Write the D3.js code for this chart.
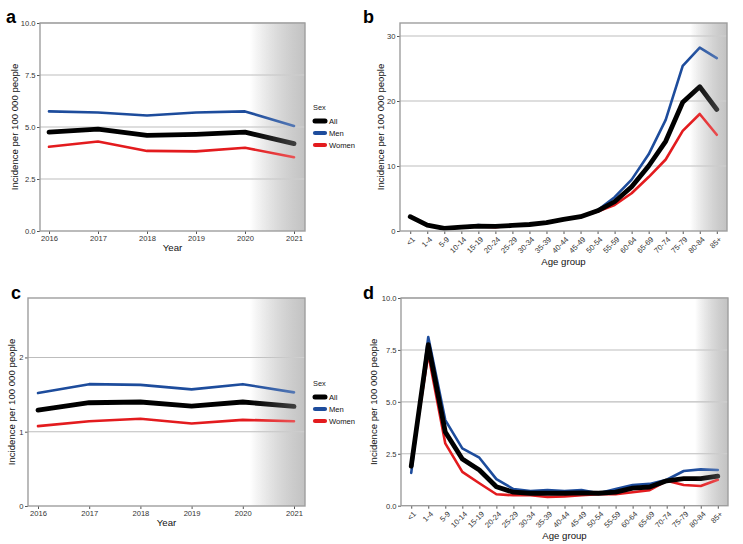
<!DOCTYPE html>
<html>
<head>
<meta charset="utf-8">
<script src="https://cdn.jsdelivr.net/npm/d3@7"></script>
<style>
  body { margin: 0; background: #fff; }
  svg { font-family: "Liberation Sans", Arial, sans-serif; }
</style>
</head>
<body>
<svg id="chart" width="743" height="544"></svg>
<script>
// data
const years = [2016, 2017, 2018, 2019, 2020, 2021];
const ageGroups = ["<1", "1-4", "5-9", "10-14", "15-19", "20-24", "25-29", "30-34", "35-39", "40-44",
  "45-49", "50-54", "55-59", "60-64", "65-69", "70-74", "75-79", "80-84", "85+"];
const sexes = ["All", "Men", "Women"];

const aAll = [4.75, 4.9, 4.6, 4.65, 4.75, 4.2];
const aMen = [5.75, 5.7, 5.55, 5.7, 5.75, 5.05];
const aWomen = [4.05, 4.3, 3.85, 3.83, 4.0, 3.55];

const bAll = [2.2, 0.9, 0.4, 0.6, 0.75, 0.7, 0.85, 1.0, 1.3, 1.8, 2.2, 3.1, 4.5, 6.8, 10.0, 13.8, 19.8, 22.2, 18.7];
const bMen = [2.2, 0.9, 0.4, 0.6, 0.9, 0.7, 0.85, 1.0, 1.3, 1.8, 2.2, 3.2, 5.2, 7.9, 11.8, 17.1, 25.4, 28.2, 26.6];
const bWomen = [2.2, 0.9, 0.4, 0.6, 0.7, 0.6, 0.85, 1.0, 1.3, 1.8, 2.2, 3.0, 4.0, 5.8, 8.3, 11.0, 15.4, 18.0, 14.8];

const cAll = [1.29, 1.39, 1.40, 1.345, 1.40, 1.34];
const cMen = [1.52, 1.64, 1.63, 1.57, 1.64, 1.53];
const cWomen = [1.075, 1.14, 1.175, 1.11, 1.16, 1.14];

const dAll = [1.9, 7.75, 3.55, 2.25, 1.72, 0.91, 0.65, 0.6, 0.6, 0.6, 0.62, 0.6, 0.65, 0.85, 0.9, 1.2, 1.3, 1.3, 1.42];
const dMen = [1.58, 8.12, 4.12, 2.76, 2.31, 1.28, 0.8, 0.7, 0.75, 0.7, 0.75, 0.6, 0.8, 1.0, 1.05, 1.25, 1.67, 1.75, 1.72];
const dWomen = [2.0, 7.3, 3.0, 1.63, 1.08, 0.55, 0.5, 0.5, 0.42, 0.45, 0.5, 0.55, 0.55, 0.65, 0.75, 1.2, 1.0, 0.95, 1.25];

const aTicks = [0, 2.5, 5, 7.5, 10];
const bTicks = [0, 10, 20, 30];
const cTicks = [0, 1, 2];
const dTicks = [0, 2.5, 5, 7.5, 10];

const colors = { All: "#000000", Men: "#1d4c9c", Women: "#e31b1e" };
const widths = { All: 4.8, Men: 2.6, Women: 2.6 };

const svg = d3.select("#chart");
const defs = svg.append("defs");

function drawPanel(cfg) {
  const { id, label, left, right, top, bottom, xType, cats, yMax, ticks, fmt, series, gradStart } = cfg;
  const g = svg.append("g");

  let x;
  if (xType === "year") {
    x = d3.scaleLinear().domain([2016, 2021]).range([left + cfg.xPad, right - cfg.xPad2]);
  } else {
    x = d3.scalePoint().domain(cats).range([left, right]).padding(0.6);
  }
  const y = d3.scaleLinear().domain([0, yMax]).range([bottom, top]);

  // gradient background
  const gb = defs.append("linearGradient").attr("id", "bg-" + id)
    .attr("x1", 0).attr("x2", 1).attr("y1", 0).attr("y2", 0);
  gb.append("stop").attr("offset", 0).attr("stop-color", "#ffffff");
  gb.append("stop").attr("offset", 1).attr("stop-color", "#a9a9a9");
  const go = defs.append("linearGradient").attr("id", "ov-" + id)
    .attr("x1", 0).attr("x2", 1).attr("y1", 0).attr("y2", 0);
  go.append("stop").attr("offset", 0).attr("stop-color", "#ffffff").attr("stop-opacity", 0);
  go.append("stop").attr("offset", 1).attr("stop-color", "#ffffff").attr("stop-opacity", 0.3);

  g.append("rect").attr("x", gradStart).attr("y", top)
    .attr("width", right - gradStart).attr("height", bottom - top)
    .attr("fill", `url(#bg-${id})`);

  // grid
  g.selectAll(".grid").data(ticks.filter(t => t > 0)).enter().append("line")
    .attr("x1", left).attr("x2", right)
    .attr("y1", d => y(d)).attr("y2", d => y(d))
    .attr("stroke", "#bdbdbd").attr("stroke-width", 1.1);

  // y axis
  const ya = g.append("g").attr("transform", `translate(${left},0)`)
    .call(d3.axisLeft(y).tickValues(ticks).tickFormat(fmt).tickSize(3).tickPadding(1.5));
  ya.select(".domain").remove();
  ya.selectAll("line").attr("stroke", "#555");
  ya.selectAll("text").attr("font-size", 7.6).attr("fill", "#333");

  // x axis
  const xa = g.append("g").attr("transform", `translate(0,${bottom})`)
    .call(xType === "year"
      ? d3.axisBottom(x).tickValues(years).tickFormat(d3.format("d")).tickSize(3).tickPadding(2)
      : d3.axisBottom(x).tickSize(3).tickPadding(2));
  xa.select(".domain").remove();
  xa.selectAll("line").attr("stroke", "#555");
  xa.selectAll("text").attr("font-size", 7.6).attr("fill", "#333");
  if (xType !== "year") {
    // rotated age labels, right end at the tick
    xa.selectAll("text")
      .attr("x", 0).attr("y", 0)
      .attr("text-anchor", "end")
      .attr("dy", "0.35em")
      .attr("transform", "translate(3,7) rotate(-45)");
  }

  // lines
  const line = d3.line()
    .x((d, i) => xType === "year" ? x(years[i]) : x(cats[i]))
    .y(d => y(d));
  ["Women", "Men", "All"].forEach(s => {
    g.append("path").datum(series[s])
      .attr("d", line)
      .attr("fill", "none")
      .attr("stroke", colors[s])
      .attr("stroke-width", widths[s])
      .attr("stroke-linejoin", "round")
      .attr("stroke-linecap", "round");
  });

  // overlay fade
  g.append("rect").attr("x", gradStart).attr("y", top)
    .attr("width", right - gradStart).attr("height", bottom - top)
    .attr("fill", `url(#ov-${id})`);

  // border
  g.append("rect").attr("x", left).attr("y", top)
    .attr("width", right - left).attr("height", bottom - top)
    .attr("fill", "none").attr("stroke", "#9e9e9e").attr("stroke-width", 1.4);

  // titles
  g.append("text").attr("x", (left + right) / 2).attr("y", cfg.xTitleY)
    .attr("text-anchor", "middle").attr("font-size", 9.6).attr("fill", "#111")
    .text(xType === "year" ? "Year" : "Age group");
  g.append("text")
    .attr("transform", `translate(${cfg.yTitleX},${(top + bottom) / 2}) rotate(-90)`)
    .attr("text-anchor", "middle").attr("font-size", 9.6).attr("fill", "#111")
    .text("Incidence per 100 000 people");

  g.append("text").attr("x", cfg.labelX).attr("y", cfg.labelY)
    .attr("font-size", 18).attr("font-weight", "bold").attr("fill", "#000")
    .text(label);

  if (cfg.legendY != null) {
    const lg = g.append("g").attr("transform", `translate(313,${cfg.legendY})`);
    lg.append("text").attr("x", 0).attr("y", 0).attr("font-size", 7.4).attr("fill", "#222").text("Sex");
    sexes.forEach((s, i) => {
      const yy = 11 + i * 12;
      lg.append("line").attr("x1", 2).attr("x2", 12).attr("y1", yy).attr("y2", yy)
        .attr("stroke", colors[s]).attr("stroke-width", s === "All" ? 5 : 4.2)
        .attr("stroke-linecap", "round");
      lg.append("text").attr("x", 16).attr("y", yy).attr("dy", "0.35em")
        .attr("font-size", 7.6).attr("fill", "#111").text(s);
    });
  }
}

drawPanel({
  id: "a", label: "a", left: 40, right: 305, top: 23, bottom: 231,
  xType: "year", xPad: 9, xPad2: 11, yMax: 10, ticks: aTicks, fmt: d3.format(".1f"),
  series: { All: aAll, Men: aMen, Women: aWomen }, gradStart: 250,
  xTitleY: 251, yTitleX: 18, labelX: 6, labelY: 23, legendY: 110
});
drawPanel({
  id: "b", label: "b", left: 400, right: 727, top: 23, bottom: 231,
  xType: "age", cats: ageGroups, yMax: 32, ticks: bTicks, fmt: d3.format("d"),
  series: { All: bAll, Men: bMen, Women: bWomen }, gradStart: 690,
  xTitleY: 265, yTitleX: 384, labelX: 363, labelY: 23
});
drawPanel({
  id: "c", label: "c", left: 28, right: 305, top: 298, bottom: 506,
  xType: "year", xPad: 10, xPad2: 11, yMax: 2.8, ticks: cTicks, fmt: d3.format("d"),
  series: { All: cAll, Men: cMen, Women: cWomen }, gradStart: 250,
  xTitleY: 526, yTitleX: 15, labelX: 11, labelY: 299, legendY: 386
});
drawPanel({
  id: "d", label: "d", left: 401, right: 728, top: 298, bottom: 505.7,
  xType: "age", cats: ageGroups, yMax: 10, ticks: dTicks, fmt: d3.format(".1f"),
  series: { All: dAll, Men: dMen, Women: dWomen }, gradStart: 695,
  xTitleY: 539, yTitleX: 377, labelX: 363, labelY: 299
});
</script>
</body>
</html>
